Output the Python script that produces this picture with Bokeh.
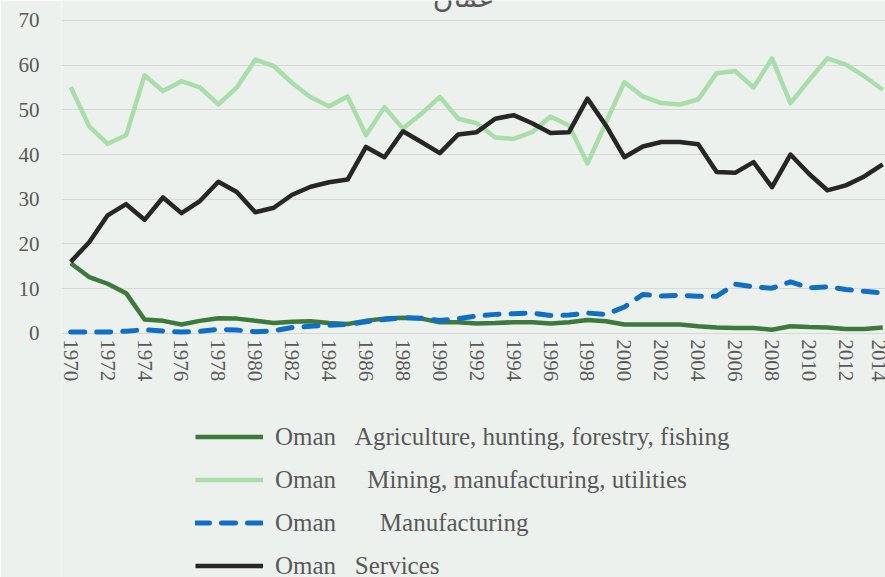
from bokeh.plotting import figure
from bokeh.models import Legend, LegendItem, FixedTicker, Range1d, Label, LinearAxis
from bokeh.embed import file_html
from bokeh.resources import INLINE

years = list(range(1970, 2015))

agriculture = [15.7, 12.6, 11.1, 9.0, 3.1, 2.8, 2.0, 2.8, 3.4, 3.3,
               2.8, 2.3, 2.6, 2.7, 2.3, 2.1, 2.8, 3.3, 3.5, 3.3,
               2.5, 2.5, 2.2, 2.3, 2.5, 2.5, 2.2, 2.5, 3.0, 2.7,
               2.0, 2.0, 2.0, 2.0, 1.6, 1.3, 1.2, 1.2, 0.8, 1.6,
               1.4, 1.3, 1.0, 1.0, 1.3]

mining = [55.1, 46.3, 42.4, 44.3, 57.7, 54.2, 56.4, 55.0, 51.2, 55.0,
          61.2, 59.8, 56.0, 52.8, 50.8, 53.0, 44.3, 50.6, 45.8, 49.1,
          52.9, 48.0, 47.0, 43.8, 43.5, 45.0, 48.5, 46.5, 38.0, 47.1,
          56.2, 53.0, 51.5, 51.2, 52.3, 58.2, 58.7, 55.0, 61.5, 51.5,
          56.6, 61.5, 60.1, 57.5, 54.5]

manufacturing = [0.3, 0.3, 0.3, 0.5, 0.8, 0.5, 0.3, 0.45, 0.9, 0.75,
                 0.35, 0.6, 1.3, 1.6, 1.8, 2.0, 2.6, 3.1, 3.5, 3.4,
                 2.9, 3.3, 3.9, 4.25, 4.4, 4.55, 4.0, 4.1, 4.55, 4.25,
                 5.9, 8.7, 8.35, 8.5, 8.3, 8.3, 11.0, 10.4, 10.1, 11.5,
                 10.2, 10.4, 9.8, 9.4, 9.0]

services = [16.0, 20.4, 26.4, 28.9, 25.4, 30.4, 26.9, 29.6, 33.9, 31.6,
            27.1, 28.1, 31.0, 32.8, 33.8, 34.4, 41.7, 39.4, 45.2, 42.8,
            40.3, 44.5, 45.0, 48.0, 48.8, 47.0, 44.8, 45.0, 52.5, 46.5,
            39.4, 41.8, 42.8, 42.8, 42.3, 36.1, 35.9, 38.3, 32.7, 40.0,
            35.7, 32.0, 33.1, 35.1, 37.8]

y_ticks = [0, 10, 20, 30, 40, 50, 60, 70]
x_ticks = list(range(1970, 2015, 2))

NB = "\u00a0"
series_labels = [
    "Oman" + NB * 3 + "Agriculture, hunting, forestry, fishing",
    "Oman" + NB * 5 + "Mining, manufacturing, utilities",
    "Oman" + NB * 7 + "Manufacturing",
    "Oman" + NB * 3 + "Services",
]
title_text = "عمان"

BG = "#edf1ed"
TXT = "#595959"
FONT = "Liberation Serif"

# frame spans the full height; x axis is pinned at y = 0 inside it
p = figure(width=885, height=577, output_backend="svg", toolbar_location=None,
           x_range=Range1d(1969.5, 2014.15), y_range=Range1d(-54.6, 74.45),
           x_axis_location=None,
           min_border_left=61, min_border_right=0, min_border_top=0,
           min_border_bottom=0,
           background_fill_color=BG, border_fill_color=BG,
           outline_line_color=None)

r_agr = p.line(years, agriculture, line_color="#3b7a3b", line_width=4.5,
               line_join="round")
r_min = p.line(years, mining, line_color="#a8dea8", line_width=4.5,
               line_join="round")
r_man = p.line(years, manufacturing, line_color="#0f6fc6", line_width=5,
               line_dash="14 12", line_cap="round", line_join="round")
r_ser = p.line(years, services, line_color="#262626", line_width=4.5,
               line_join="round")

xaxis = LinearAxis(fixed_location=0, ticker=FixedTicker(ticks=x_ticks))
p.add_layout(xaxis, "below")

p.yaxis.ticker = FixedTicker(ticks=y_ticks)
for ax in (xaxis, p.yaxis[0]):
    ax.axis_line_color = None
    ax.major_tick_line_color = None
    ax.minor_tick_line_color = None
    ax.major_tick_out = 0
    ax.major_tick_in = 0
    ax.major_label_text_font = FONT
    ax.major_label_text_font_size = "21px"
    ax.major_label_text_color = TXT
p.yaxis.major_label_standoff = 22
xaxis.major_label_standoff = 6
xaxis.major_label_orientation = "vertical"

p.xgrid.grid_line_color = None
p.ygrid.ticker = FixedTicker(ticks=y_ticks)
p.ygrid.grid_line_color = "#d8d8d8"
p.ygrid.grid_line_width = 1

# title (cut off at the top of the picture)
p.add_layout(Label(x=1991.3, y=75.1, text=title_text, text_align="center",
                   text_baseline="alphabetic", text_font="DejaVu Sans",
                   text_font_size="28px", text_color=TXT))

legend = Legend(items=[LegendItem(label=series_labels[0], renderers=[r_agr]),
                       LegendItem(label=series_labels[1], renderers=[r_min]),
                       LegendItem(label=series_labels[2], renderers=[r_man]),
                       LegendItem(label=series_labels[3], renderers=[r_ser])],
                location=(134, -3), orientation="vertical",
                glyph_width=68, glyph_height=29, label_height=29,
                spacing=14, padding=0, margin=0, label_standoff=12,
                label_text_font=FONT, label_text_font_size="25px",
                label_text_color=TXT,
                background_fill_alpha=0, border_line_alpha=0)
p.add_layout(legend)

open("out.html", "w").write(file_html(p, INLINE))
